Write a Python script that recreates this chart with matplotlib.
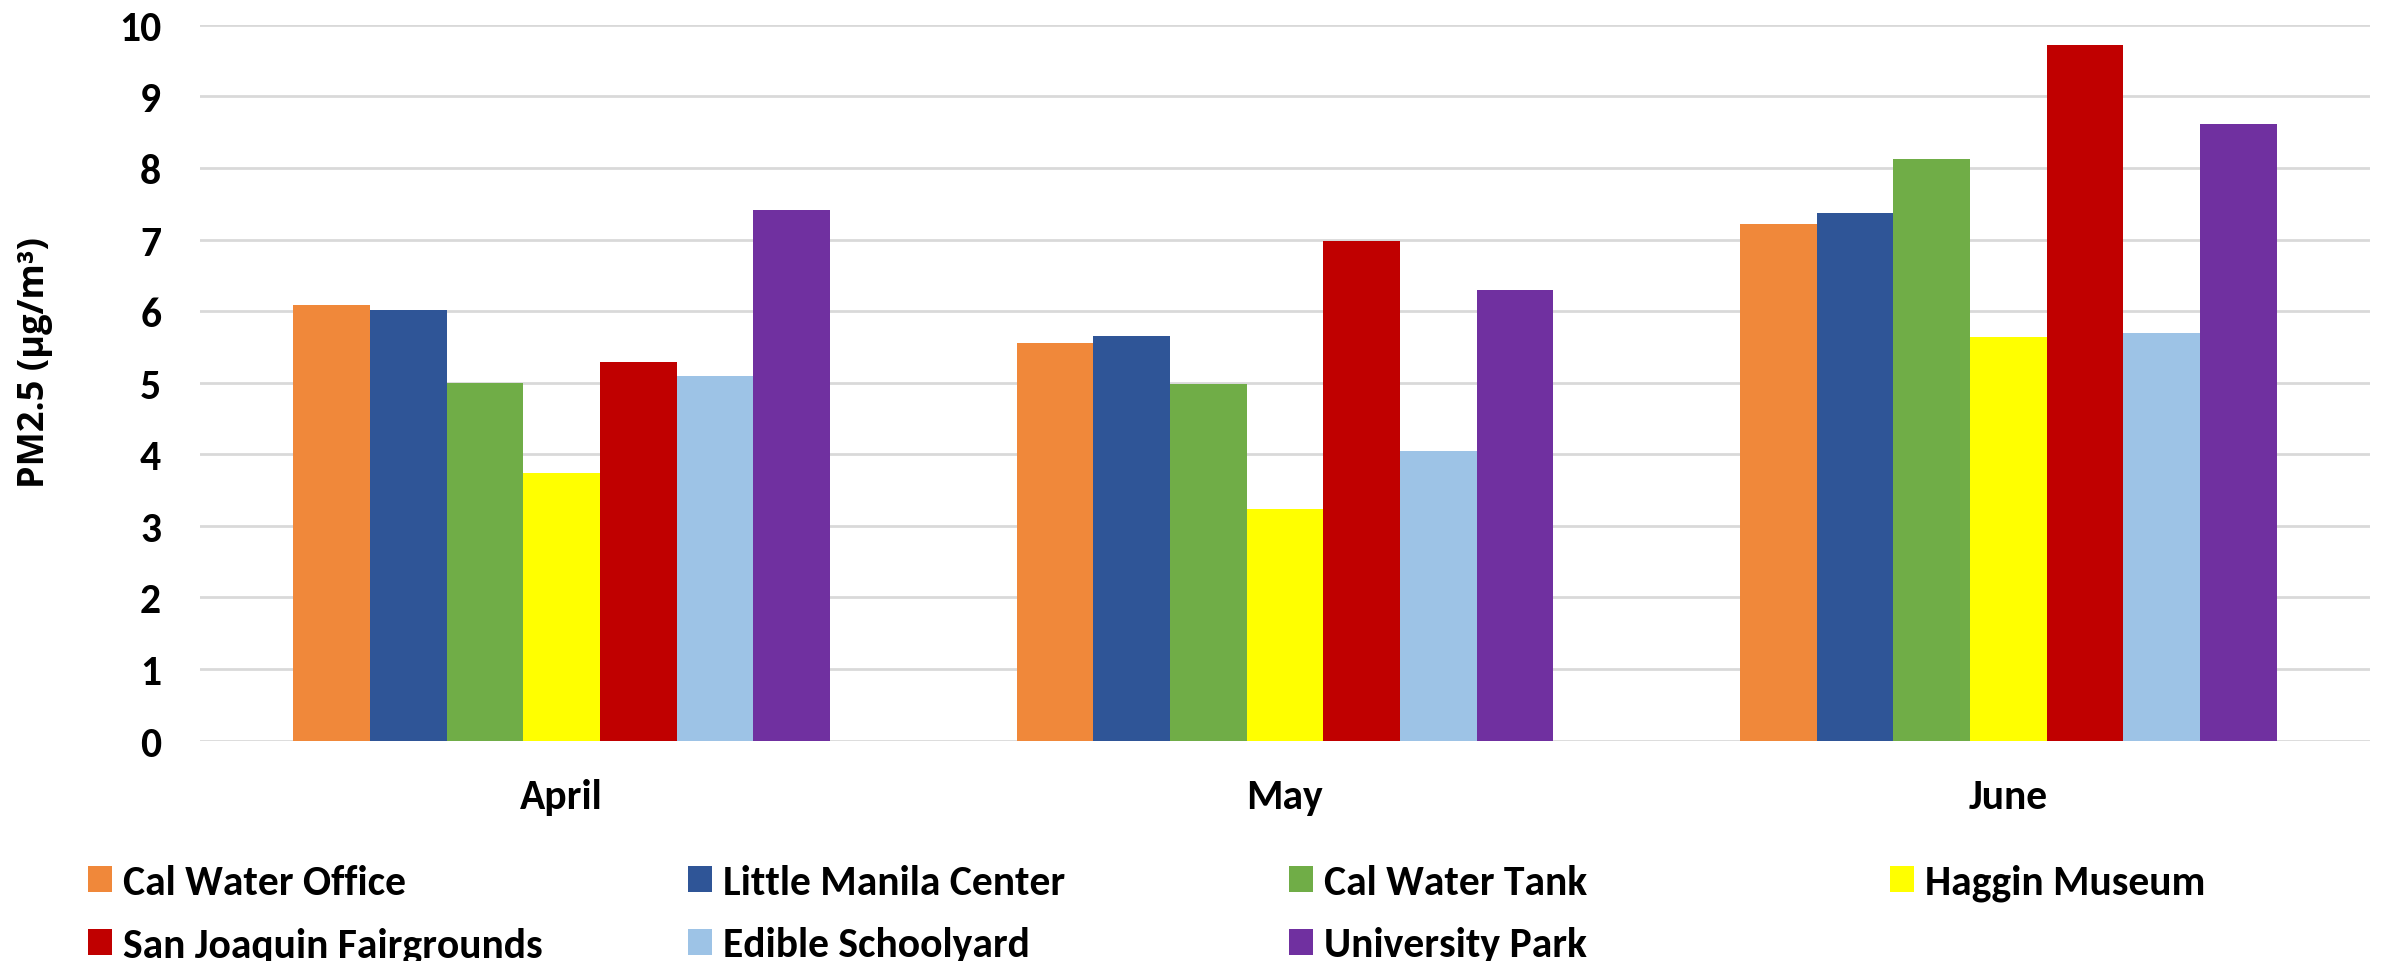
import numpy as np
import matplotlib.pyplot as plt
from matplotlib.patches import Patch

months = ['April', 'May', 'June']
sites = ['Cal Water Office', 'Little Manila Center', 'Cal Water Tank', 'Haggin Museum',
         'San Joaquin Fairgrounds', 'Edible Schoolyard', 'University Park']
colors = ['#F0883A', '#2F5597', '#70AD47', '#FFFF00', '#C00000', '#9DC3E6', '#7030A0']

cal_water_office = [6.08, 5.55, 7.22]
little_manila = [6.01, 5.65, 7.37]
cal_water_tank = [4.99, 4.98, 8.12]
haggin_museum = [3.74, 3.24, 5.64]
sj_fairgrounds = [5.29, 6.98, 9.72]
edible_schoolyard = [5.10, 4.04, 5.69]
university_park = [7.41, 6.29, 8.61]

series = [cal_water_office, little_manila, cal_water_tank, haggin_museum,
          sj_fairgrounds, edible_schoolyard, university_park]

font = ['Carlito', 'Lato', 'DejaVu Sans']
plt.rcParams['font.family'] = font
plt.rcParams['font.weight'] = 'bold'

fig = plt.figure(figsize=(23.84, 9.62), dpi=100)
ax = fig.add_axes([0.0839, 0.2291, 0.9102, 0.7441])

x = np.arange(len(months))
w = 0.106
for i, (vals, c) in enumerate(zip(series, colors)):
    ax.bar(x + (i - 3) * w, vals, width=w, color=c, label=sites[i], zorder=3)

ax.set_xlim(-0.5, 2.5)
ax.set_ylim(0, 10)
ax.set_yticks(range(0, 11))
ax.yaxis.grid(True, color='#d9d9d9', linewidth=2, zorder=0)
ax.set_axisbelow(True)
for s in ['top', 'right', 'left', 'bottom']:
    ax.spines[s].set_visible(False)
ax.tick_params(axis='both', length=0, labelsize=30)
ax.tick_params(axis='y', pad=28)
ax.tick_params(axis='x', pad=27)
ax.set_xticks(x)
ax.set_xticklabels(months, fontweight='bold')
for t in ax.get_yticklabels():
    t.set_fontweight('bold')

ax.set_ylabel('PM2.5 (µg/m³)', fontsize=26, fontweight='bold',
              family=['Open Sans', 'DejaVu Sans'])
ax.yaxis.set_label_coords(-0.0677, 0.53)

# legend: one column each, fixed spacing like the original
cols = [[0, 4], [1, 5], [2, 6], [3]]
xs = [88, 688, 1289, 1890]
for idx, xp in zip(cols, xs):
    handles = [Patch(facecolor=colors[k], label=sites[k]) for k in idx]
    fig.legend(handles=handles, loc='upper left',
               bbox_to_anchor=(xp / 2384, 1 - 865 / 962),
               frameon=False, borderpad=0, borderaxespad=0,
               handlelength=0.58, handleheight=0.58, handletextpad=0.25,
               labelspacing=0.61, prop={'weight': 'bold', 'size': 30})

fig.savefig('out.png', dpi=100)
